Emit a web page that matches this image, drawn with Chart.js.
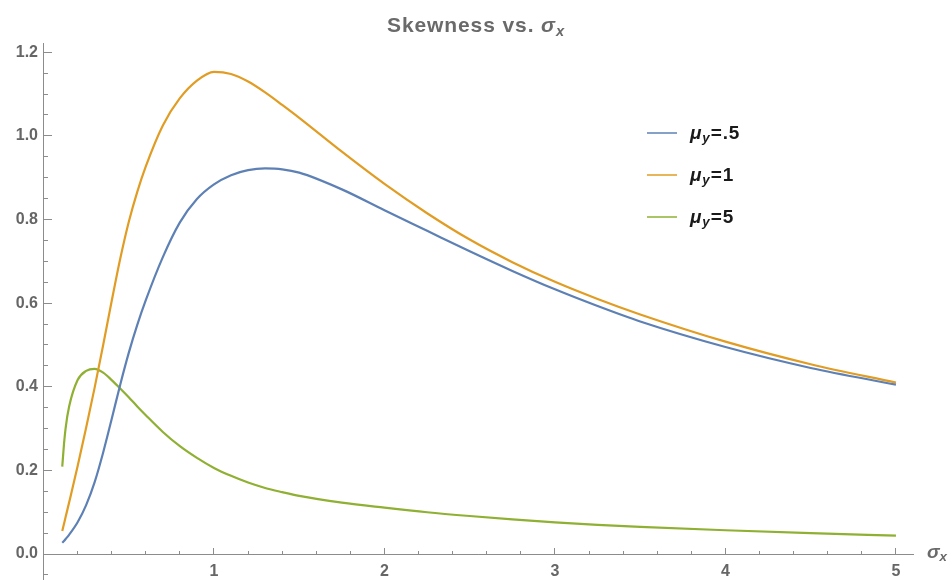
<!DOCTYPE html>
<html>
<head>
<meta charset="utf-8">
<script src="https://cdn.jsdelivr.net/npm/chart.js@4.4.1/dist/chart.umd.min.js"></script>
<style>
  html, body { margin: 0; padding: 0; background: #fff; }
  #wrap { position: relative; width: 952px; height: 580px; font-family: "Liberation Sans", Arial, sans-serif; }
  #c { position: absolute; left: 0; top: 0; }
  #title { position: absolute; left: 0; top: 13px; width: 952px; text-align: center; font-weight: bold; font-size: 21px; letter-spacing: 0.9px; line-height: 24px; color: #6a6a6a; }
  #title sub, .lg sub, #xlab sub { font-size: 70%; vertical-align: -0.25em; line-height: 0; }
  .lg { position: absolute; left: 647px; height: 24px; display: flex; align-items: center; font-weight: bold; font-size: 19px; letter-spacing: 0.9px; color: #1a1a1a; white-space: nowrap; }
  .lg .sw { display: inline-block; width: 30px; height: 0; border-top: 2px solid; margin-right: 13px; }
  #xlab { position: absolute; left: 927px; top: 541px; font-weight: bold; font-style: italic; font-size: 19px; color: #6a6a6a; line-height: 22px; }
</style>
</head>
<body>
<div id="wrap">
  <canvas id="c" width="952" height="580"></canvas>
  <div id="title">Skewness vs. <i>σ<sub>x</sub></i></div>
  <div id="legend"></div>
  <div id="xlab">σ<sub>x</sub></div>
</div>
<script>
// ---- data ----
const sigma = [0.11,0.12,0.13,0.15,0.2,0.25,0.3,0.35,0.4,0.45,0.5,0.55,0.6,0.7,0.8,0.9,1.0,1.1,1.2,1.3,1.4,1.5,1.75,2.0,2.25,2.5,2.75,3.0,3.25,3.5,4.0,4.5,5.0];
const skewMuHalf = [0.027,0.031,0.036,0.046,0.076,0.117,0.172,0.243,0.323,0.405,0.481,0.548,0.607,0.71,0.793,0.849,0.884,0.906,0.918,0.922,0.92,0.912,0.872,0.822,0.773,0.724,0.677,0.633,0.593,0.556,0.495,0.445,0.405];
const skewMuOne  = [0.055,0.072,0.089,0.123,0.21,0.302,0.398,0.5,0.605,0.706,0.794,0.866,0.927,1.025,1.09,1.132,1.153,1.148,1.13,1.104,1.074,1.043,0.962,0.885,0.815,0.752,0.698,0.651,0.61,0.573,0.508,0.454,0.41];
const skewMuFive = [0.209,0.262,0.302,0.352,0.416,0.438,0.443,0.434,0.416,0.396,0.375,0.353,0.332,0.292,0.258,0.23,0.206,0.187,0.171,0.158,0.148,0.139,0.123,0.111,0.1,0.091,0.083,0.076,0.07,0.065,0.057,0.05,0.044];
const muLabels = ['.5', '1', '5'];
const seriesColors = ['#5E81B5', '#E19C24', '#8FB032'];
const xMajorTicks = [1, 2, 3, 4, 5];
const yMajorTicks = ['0.0', '0.2', '0.4', '0.6', '0.8', '1.0', '1.2'];

const axisColor = '#8c8c8c';
const labelColor = '#666666';
const tickFont = { family: '"Liberation Sans", Arial, sans-serif', size: 16, weight: 'bold' };

function toPoints(ys) { return sigma.map((s, i) => ({ x: s, y: ys[i] })); }
const seriesValues = [skewMuHalf, skewMuOne, skewMuFive];

const datasets = seriesValues.map((vals, i) => ({
  label: 'μy=' + muLabels[i],
  data: toPoints(vals),
  borderColor: seriesColors[i],
  backgroundColor: seriesColors[i],
  borderWidth: 2.2,
  pointRadius: 0,
  fill: false,
  cubicInterpolationMode: 'monotone'
}));

const zeroH = (s) => { s.height = 0; };
const zeroW = (s) => { s.width = 0; };
const yRange = { min: -0.062, max: 1.222 };

const chart = new Chart(document.getElementById('c'), {
  type: 'line',
  data: { datasets },
  options: {
    responsive: false,
    devicePixelRatio: 1,
    animation: false,
    layout: { padding: { top: 43, right: 39, bottom: 0, left: 0 } },
    plugins: { legend: { display: false }, title: { display: false }, tooltip: { enabled: false } },
    scales: {
      x: {
        type: 'linear',
        position: { y: 0 },
        min: 0, max: 5.1,
        afterFit: zeroH,
        border: { display: true, color: axisColor, width: 1 },
        grid: { drawOnChartArea: false, drawTicks: true, tickLength: -7, color: axisColor, tickWidth: 1 },
        ticks: {
          stepSize: 1, includeBounds: false, padding: 15,
          color: labelColor, font: tickFont, maxRotation: 0,
          callback: (v) => xMajorTicks.includes(v) ? String(v) : ''
        }
      },
      xMinor: {
        type: 'linear',
        axis: 'x',
        position: { y: 0 },
        min: 0, max: 5.1,
        afterFit: zeroH,
        border: { display: true, color: axisColor, width: 1 },
        grid: { drawOnChartArea: false, drawTicks: true, tickLength: -4, color: axisColor, tickWidth: 1 },
        ticks: { stepSize: 0.2, includeBounds: false, display: false }
      },
      // labels of the vertical axis (its own tick marks are invisible)
      y: {
        type: 'linear',
        position: 'left',
        min: yRange.min, max: yRange.max,
        afterFit: (s) => { s.width = 43.5; },
        border: { display: true, color: axisColor, width: 1 },
        grid: { drawOnChartArea: false, drawTicks: true, tickLength: 16, tickColor: 'rgba(0,0,0,0)' },
        ticks: {
          stepSize: 0.2, includeBounds: false, padding: -10.5,
          color: labelColor, font: tickFont,
          callback: (v) => { const t = v.toFixed(1); return yMajorTicks.includes(t) ? t : ''; }
        }
      },
      yMajor: {
        type: 'linear',
        axis: 'y',
        position: { x: 0 },
        min: yRange.min, max: yRange.max,
        afterFit: zeroW,
        border: { display: false },
        grid: { drawOnChartArea: false, drawTicks: true, tickLength: -8, color: axisColor, tickWidth: 1 },
        ticks: { stepSize: 0.2, includeBounds: false, display: false }
      },
      yMinor: {
        type: 'linear',
        axis: 'y',
        position: { x: 0 },
        min: yRange.min, max: yRange.max,
        afterFit: zeroW,
        border: { display: false },
        grid: { drawOnChartArea: false, drawTicks: true, tickLength: -4, color: axisColor, tickWidth: 1 },
        ticks: { stepSize: 0.05, includeBounds: false, display: false }
      }
    }
  }
});

// fit the plot area to the reference frame (x: 43.5..913, y: 43..580)
const target = { left: 43.5, right: 913, top: 43, bottom: 580 };
for (let k = 0; k < 3; k++) {
  const ca = chart.chartArea;
  const p = chart.options.layout.padding;
  const d = [target.top - ca.top, ca.bottom - target.bottom, target.left - ca.left, ca.right - target.right];
  if (d.every((v) => Math.abs(v) < 0.25)) break;
  p.top += d[0]; p.bottom += d[1]; p.left += d[2]; p.right += d[3];
  chart.update();
}

// HTML legend built from the chart's datasets
const legendEl = document.getElementById('legend');
const rowY = [133, 175, 217];
chart.data.datasets.forEach((ds, i) => {
  const row = document.createElement('div');
  row.className = 'lg';
  row.style.top = (rowY[i] - 12) + 'px';
  const sw = document.createElement('span');
  sw.className = 'sw';
  sw.style.borderColor = ds.borderColor;
  sw.style.opacity = '0.75';
  row.appendChild(sw);
  const txt = document.createElement('span');
  txt.innerHTML = '<i>μ<sub>y</sub></i>=' + muLabels[i];
  row.appendChild(txt);
  legendEl.appendChild(row);
});
</script>
</body>
</html>
